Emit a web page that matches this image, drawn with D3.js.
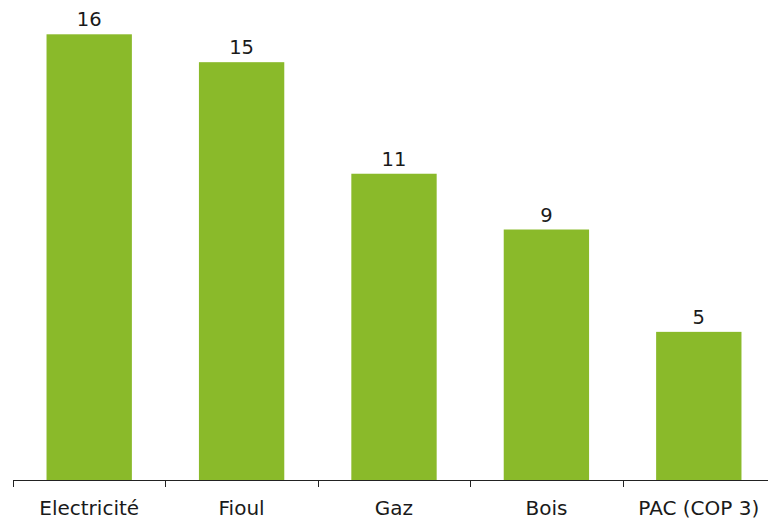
<!DOCTYPE html>
<html>
<head>
<meta charset="utf-8">
<script src="https://cdn.jsdelivr.net/npm/d3@7"></script>
<style>
  html, body { margin: 0; padding: 0; background: #fff; }
  svg { display: block; }
  text { font-family: "DejaVu Sans", Verdana, sans-serif; fill: #1a1a1a; }
</style>
</head>
<body>
<script>
const categories = ["Electricité", "Fioul", "Gaz", "Bois", "PAC (COP 3)"];
const values = [16, 15, 11, 9, 5.33];

const W = 768, H = 520;
const svg = d3.select("body").append("svg").attr("width", W).attr("height", H);

const x = d3.scaleBand().domain(categories).range([13, 775]).paddingInner(0.44).paddingOuter(0.22);
const y = d3.scaleLinear().domain([0, 16]).range([480.5, 34.3]);

svg.selectAll("rect.bar").data(values).join("rect")
  .attr("class", "bar")
  .attr("x", (d, i) => x(categories[i]))
  .attr("width", x.bandwidth())
  .attr("y", d => y(d))
  .attr("height", d => y(0) - y(d))
  .attr("fill", "#8aba2a");

svg.selectAll("text.val").data(values).join("text")
  .attr("class", "val")
  .attr("x", (d, i) => x(categories[i]) + x.bandwidth() / 2)
  .attr("y", d => y(d) - 8)
  .attr("text-anchor", "middle")
  .style("font-size", "19.5px")
  .text(d => d3.format(".0f")(d));

// Axis
const step = x.step();
const g = svg.append("g");
g.append("line")
  .attr("x1", 13).attr("x2", 775)
  .attr("y1", 480.5).attr("y2", 480.5)
  .attr("stroke", "#222").attr("stroke-width", 1);
const tickXs = categories.map(c => x(c) - x.paddingOuter() * step);
g.selectAll("line.tick").data(tickXs).join("line")
  .attr("class", "tick")
  .attr("x1", d => Math.round(d) + 0.5).attr("x2", d => Math.round(d) + 0.5)
  .attr("y1", 480.5).attr("y2", 487)
  .attr("stroke", "#222").attr("stroke-width", 1);

svg.selectAll("text.cat").data(categories).join("text")
  .attr("class", "cat")
  .attr("x", d => x(d) + x.bandwidth() / 2)
  .attr("y", 515)
  .attr("text-anchor", "middle")
  .style("font-size", "20px")
  .text(d => d);
</script>
</body>
</html>
